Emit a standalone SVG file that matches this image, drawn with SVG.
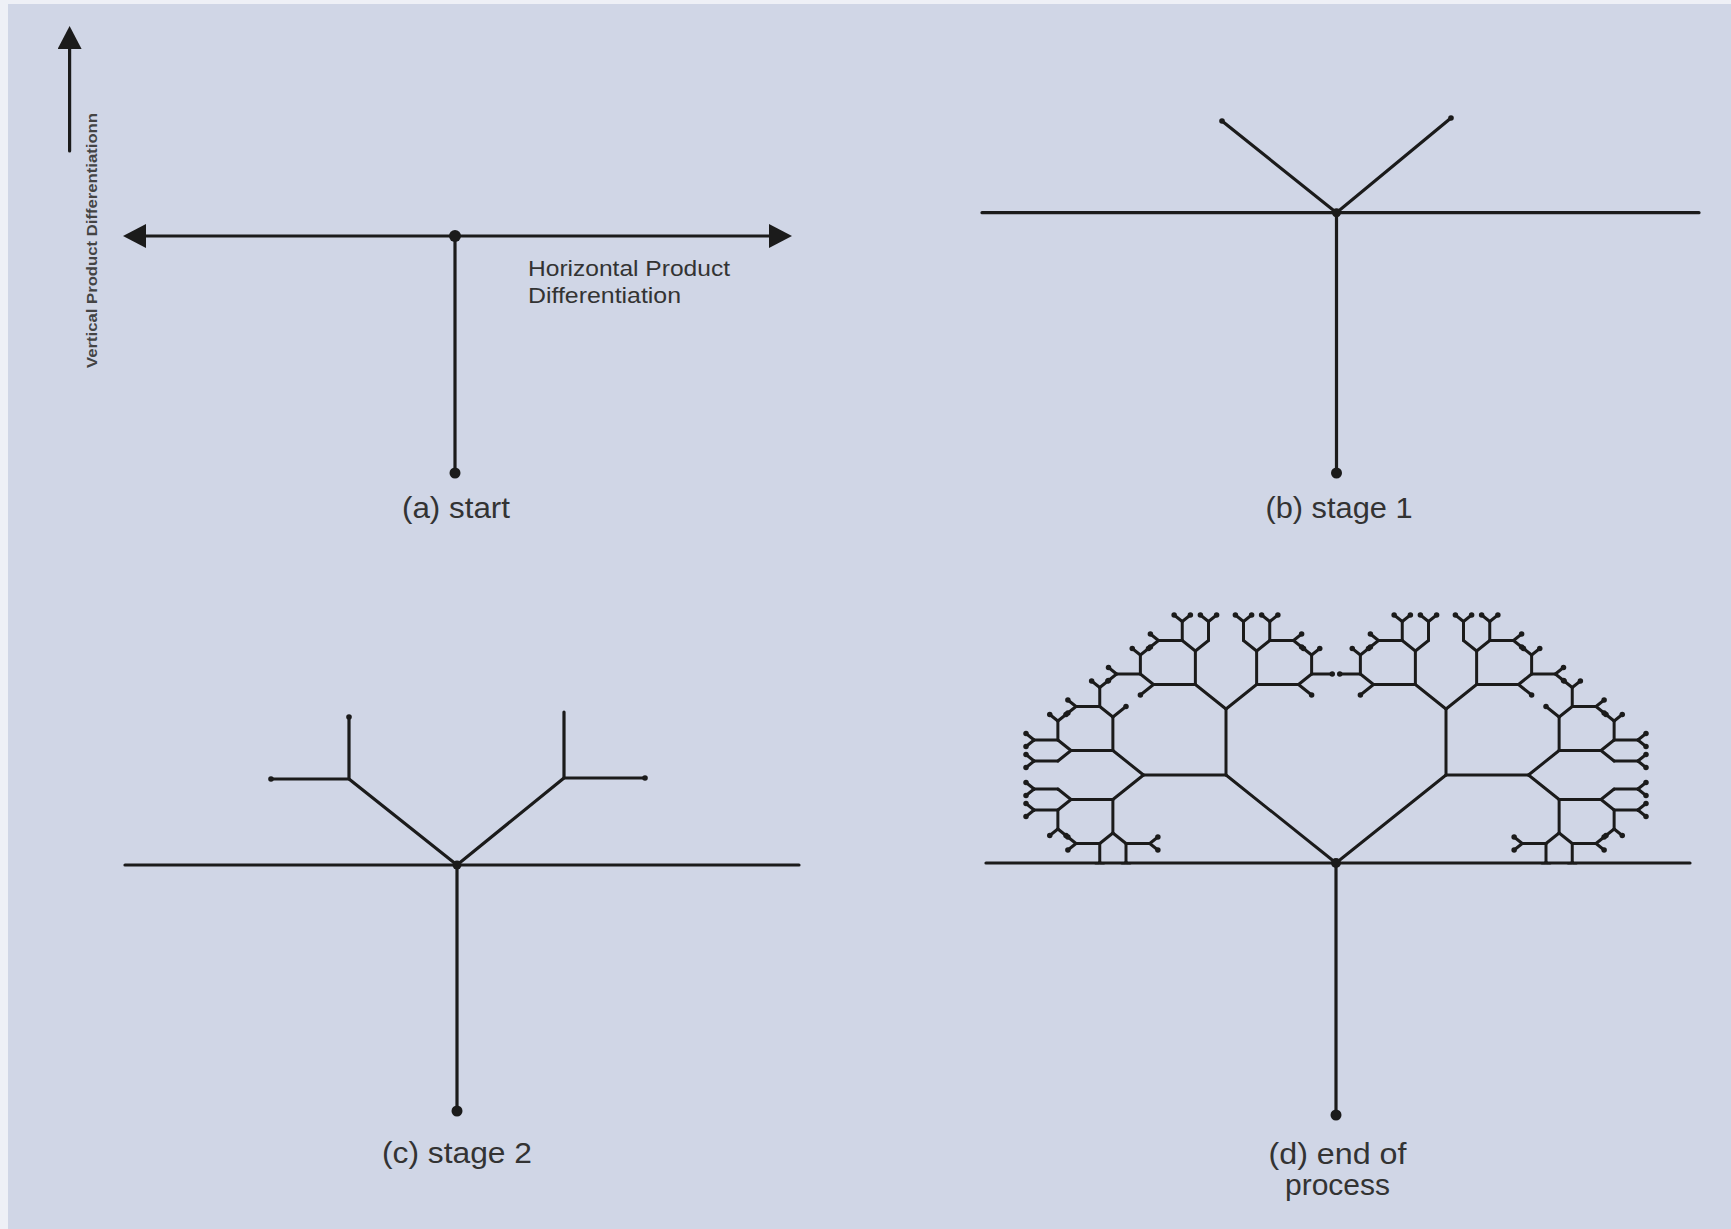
<svg xmlns="http://www.w3.org/2000/svg" width="1731" height="1229" viewBox="0 0 1731 1229">
  <style>
    .ln{fill:none;stroke:#1b1b1b;stroke-width:3.2;stroke-linecap:round}
    .tw{fill:none;stroke:#1b1b1b;stroke-width:3;stroke-linecap:round;vector-effect:non-scaling-stroke}
    .tip{fill:none;stroke:#1b1b1b;stroke-width:5.5;stroke-linecap:round;vector-effect:non-scaling-stroke}
    .dot{fill:#1b1b1b}
    .lbl{font-family:"Liberation Sans",Arial,sans-serif;font-size:30px;fill:#333;text-anchor:middle}
    .ax{font-family:"Liberation Sans",Arial,sans-serif;font-size:22px;fill:#333}
    .vx{font-family:"Liberation Sans",Arial,sans-serif;font-size:15px;font-weight:bold;fill:#444}
  </style>
  <defs>
    <marker id="head" viewBox="0 0 23 24" markerWidth="23" markerHeight="24" refX="10" refY="12" orient="auto-start-reverse" markerUnits="userSpaceOnUse">
      <path d="M0 0 L23 12 L0 24 Z" fill="#1b1b1b"/>
    </marker>
    <clipPath id="aboveBase">
      <rect x="960" y="560" width="740" height="304.5"/>
    </clipPath>

    <!-- branching tree, built bottom-up.
         a* = axis segment pointing up, d* = 45° segment pointing up-right.
         Variants prune the inner branches where neighbouring sub-trees would cross. -->
    <g id="t-d7"><path class="tw" d="M0 0 L6.5 -6.5"/><path class="tip" d="M6.5 -6.5 h0"/></g>
    <g id="t-a6"><path class="tw" d="M0 0 V-19"/>
      <use href="#t-d7" transform="translate(0,-19)"/>
      <use href="#t-d7" transform="translate(0,-19) scale(-1,1)"/></g>
    <g id="t-a6s"><path class="tw" d="M0 0 V-16.5"/><path class="tip" d="M0 -16.5 h0"/></g>
    <g id="t-leaf"><path class="tw" d="M0 0 L10.5 -10.5"/><path class="tip" d="M10.5 -10.5 h0"/></g>

    <g id="t-d5"><path class="tw" d="M0 0 L10.5 -10.5"/>
      <use href="#t-a6" transform="translate(10.5,-10.5)"/>
      <use href="#t-a6" transform="translate(10.5,-10.5) rotate(90)"/></g>
    <g id="t-d5o"><path class="tw" d="M0 0 L10.5 -10.5"/>
      <use href="#t-a6" transform="translate(10.5,-10.5)"/></g>
    <g id="t-d5c"><path class="tw" d="M0 0 L10.5 -10.5"/>
      <use href="#t-a6s" transform="translate(10.5,-10.5)"/>
      <use href="#t-a6" transform="translate(10.5,-10.5) rotate(90)"/></g>

    <g id="t-a4"><path class="tw" d="M0 0 V-33.5"/>
      <use href="#t-d5" transform="translate(0,-33.5)"/>
      <use href="#t-d5" transform="translate(0,-33.5) scale(-1,1)"/></g>
    <g id="t-a4u"><path class="tw" d="M0 0 V-33.5"/>
      <use href="#t-d5" transform="translate(0,-33.5)"/>
      <use href="#t-d5o" transform="translate(0,-33.5) scale(-1,1)"/></g>
    <g id="t-a4k"><path class="tw" d="M0 0 V-33.5"/>
      <use href="#t-leaf" transform="translate(0,-33.5)"/>
      <use href="#t-d5" transform="translate(0,-33.5) scale(-1,1)"/></g>
    <g id="t-a4c"><path class="tw" d="M0 0 V-33.5"/>
      <use href="#t-leaf" transform="translate(0,-33.5)"/>
      <use href="#t-d5c" transform="translate(0,-33.5) scale(-1,1)"/></g>

    <g id="t-d3"><path class="tw" d="M0 0 L24.5 -24.5"/>
      <use href="#t-a4u" transform="translate(24.5,-24.5)"/>
      <use href="#t-a4" transform="translate(24.5,-24.5) rotate(90)"/></g>
    <g id="t-d3k"><path class="tw" d="M0 0 L24.5 -24.5"/>
      <use href="#t-a4u" transform="translate(24.5,-24.5)"/>
      <use href="#t-a4k" transform="translate(24.5,-24.5) rotate(90)"/></g>
    <g id="t-d3c"><path class="tw" d="M0 0 L24.5 -24.5"/>
      <use href="#t-a4u" transform="translate(24.5,-24.5)"/>
      <use href="#t-a4c" transform="translate(24.5,-24.5) rotate(90)"/></g>

    <g id="t-a2v"><path class="tw" d="M0 0 V-66"/>
      <use href="#t-d3k" transform="translate(0,-66)"/>
      <use href="#t-d3c" transform="translate(0,-66) scale(-1,1)"/></g>
    <g id="t-a2h"><path class="tw" d="M0 0 V-66"/>
      <use href="#t-d3" transform="translate(0,-66)"/>
      <use href="#t-d3k" transform="translate(0,-66) scale(-1,1)"/></g>

    <g id="t-d1"><path class="tw" d="M0 0 L88 -88"/>
      <use href="#t-a2v" transform="translate(88,-88)"/>
      <use href="#t-a2h" transform="translate(88,-88) rotate(90)"/></g>
  </defs>

  <!-- backdrop -->
  <rect width="1731" height="1229" fill="#eef0f6"/>
  <rect x="8" y="4" width="1723" height="1225" fill="#d0d6e6"/>

  <!-- (a) start -->
  <g id="panel-a">
    <g id="axes">
      <path class="ln" d="M69.6 151 V39" marker-end="url(#head)"/>
      <path class="ln" d="M136 236 H779" marker-start="url(#head)" marker-end="url(#head)"/>
      <text class="vx" transform="translate(97,368) rotate(-90)" textLength="255" lengthAdjust="spacingAndGlyphs">Vertical Product Differentiationn</text>
      <text class="ax" x="528" y="276" textLength="202" lengthAdjust="spacingAndGlyphs">Horizontal Product</text>
      <text class="ax" x="528" y="303" textLength="153" lengthAdjust="spacingAndGlyphs">Differentiation</text>
    </g>
    <path class="ln" d="M455 236 V473"/>
    <circle class="dot" cx="455" cy="236" r="6"/>
    <circle class="dot" cx="455" cy="473" r="5.5"/>
    <text class="lbl" x="456" y="518" textLength="108" lengthAdjust="spacingAndGlyphs">(a) start</text>
  </g>

  <!-- (b) stage 1 -->
  <g id="panel-b">
    <path class="ln" d="M982 212.7 H1699" stroke-linecap="butt"/>
    <path class="ln" d="M1222 121 L1336.5 212.7 L1451 118 M1336.5 212.7 V473"/>
    <circle class="dot" cx="1336.5" cy="212.7" r="4.5"/>
    <circle class="dot" cx="1222" cy="121" r="2.8"/>
    <circle class="dot" cx="1451" cy="118" r="2.8"/>
    <circle class="dot" cx="1336.5" cy="473" r="5.5"/>
    <text class="lbl" x="1339" y="518" textLength="147" lengthAdjust="spacingAndGlyphs">(b) stage 1</text>
  </g>

  <!-- (c) stage 2 -->
  <g id="panel-c">
    <path class="ln" d="M125 865 H799" stroke-linecap="butt"/>
    <path class="ln" d="M349 779 L457 865 L564 778 M457 865 V1111"/>
    <path class="ln" d="M349 779 V717 M349 779 H271 M564 778 V712 M564 778 H645"/>
    <circle class="dot" cx="457" cy="865" r="4.5"/>
    <circle class="dot" cx="349" cy="717" r="2.8"/>
    <circle class="dot" cx="271" cy="779" r="2.8"/>
    <circle class="dot" cx="645" cy="778" r="2.8"/>
    <circle class="dot" cx="457" cy="1111" r="5.5"/>
    <text class="lbl" x="457" y="1163" textLength="150" lengthAdjust="spacingAndGlyphs">(c) stage 2</text>
  </g>

  <!-- (d) end of process -->
  <g id="panel-d">
    <g clip-path="url(#aboveBase)">
      <g transform="translate(1336,863) scale(1.25,1)">
        <use href="#t-d1"/>
        <use href="#t-d1" transform="scale(-1,1)"/>
      </g>
    </g>
    <path class="ln" d="M986 863 H1690" stroke-linecap="butt"/>
    <path class="ln" d="M1336 863 V1115"/>
    <circle class="dot" cx="1336" cy="863" r="5"/>
    <circle class="dot" cx="1336" cy="1115" r="5.5"/>
    <text class="lbl" x="1337.5" y="1164" textLength="138" lengthAdjust="spacingAndGlyphs">(d) end of</text>
    <text class="lbl" x="1337.5" y="1195" textLength="105" lengthAdjust="spacingAndGlyphs">process</text>
  </g>
</svg>
